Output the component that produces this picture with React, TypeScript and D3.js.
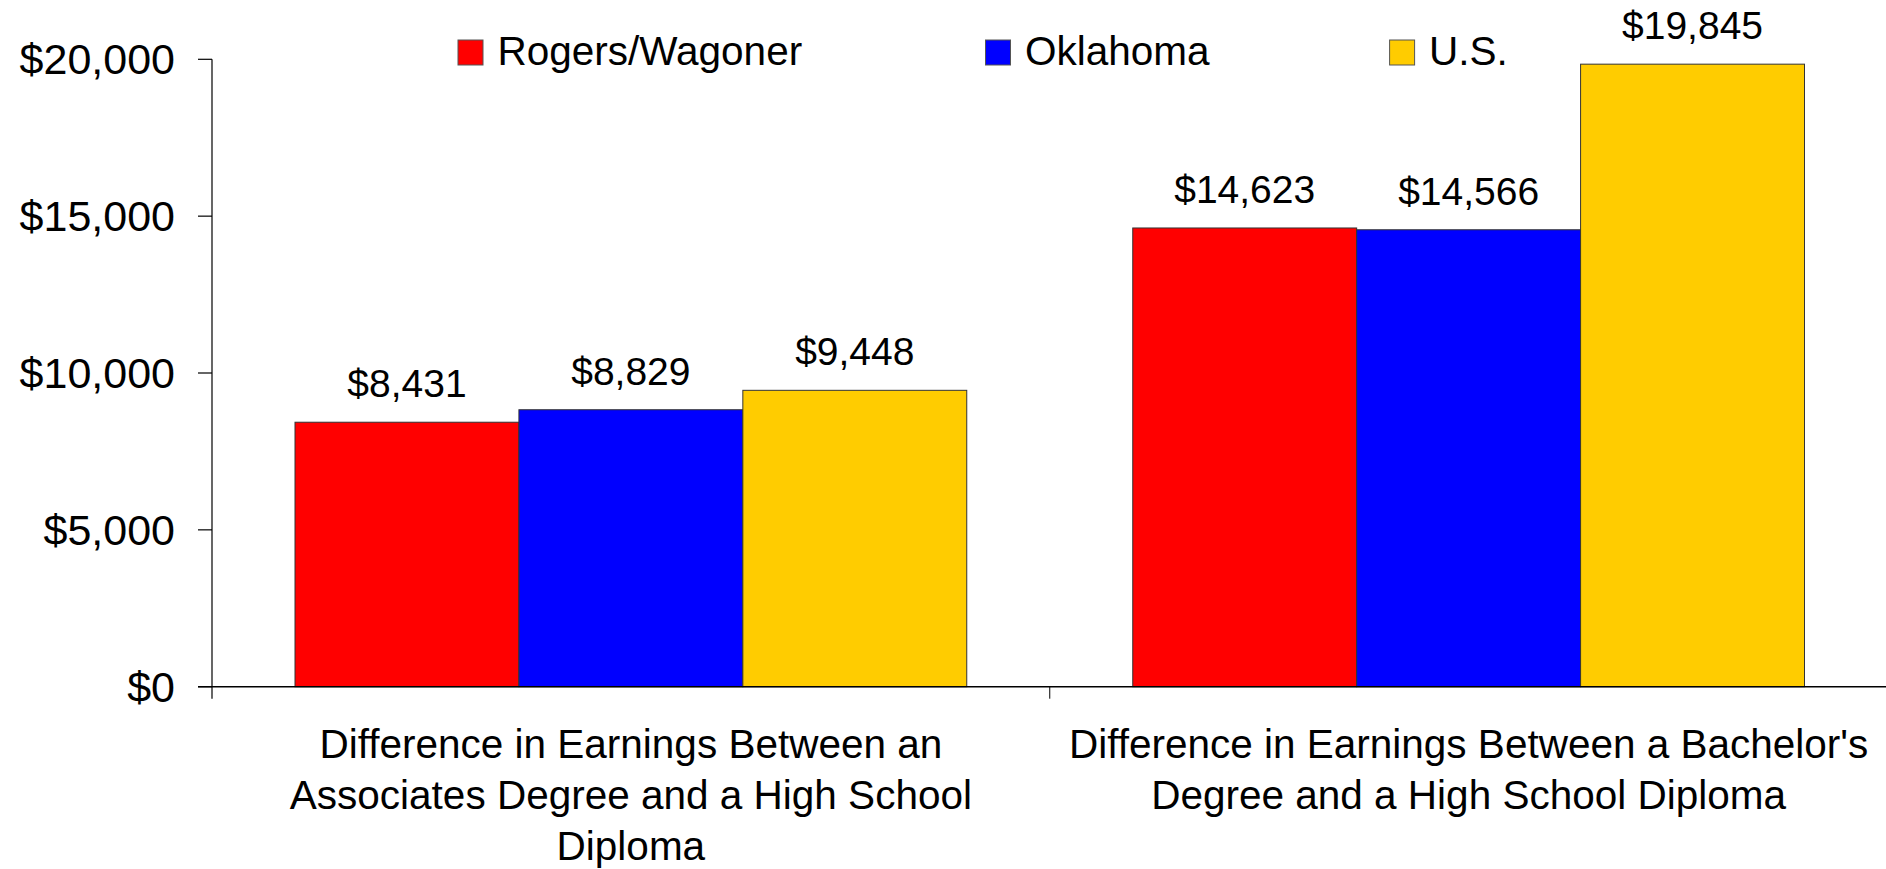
import React from "react";
import * as d3 from "d3";

const categories = [
  "Difference in Earnings Between an\nAssociates Degree and a High School\nDiploma",
  "Difference in Earnings Between a Bachelor's\nDegree and a High School Diploma",
];
const seriesNames = ["Rogers/Wagoner", "Oklahoma", "U.S."];
const seriesColors = ["#FF0000", "#0000FF", "#FFCC00"];
const rogersValues = [8431, 14623];
const oklahomaValues = [8829, 14566];
const usValues = [9448, 19845];
const yTicks = [0, 5000, 10000, 15000, 20000];

const W = 1886;
const H = 869;
const FONT = "'Liberation Sans', Arial, sans-serif";
const FS = 39;
const TICK_FS = 43;
const LEG_FS = 40.5;
const CAT_FS = 40.5;

export default function App() {
  const values = [rogersValues, oklahomaValues, usValues];
  const left = 212;
  const right = 1887.5;
  const y0 = 686.7;
  const yTop = 59.3;
  const y = d3.scaleLinear().domain([0, 20000]).range([y0, yTop]);
  const x0 = d3.scaleBand<string>().domain(categories).range([left, right]).padding(0);
  const bw = x0.bandwidth();
  const gap = 166;
  const x1 = d3
    .scaleBand<string>()
    .domain(seriesNames)
    .range([gap / 2, bw - gap / 2])
    .padding(0);
  const fmt = (v: number) => "$" + d3.format(",")(v);

  const legendX = [458, 985.5, 1389.6];

  return (
    <svg width={W} height={H} style={{ display: "block", position: "absolute", left: 0, top: 0 }} fontFamily={FONT}>
      <rect x={0} y={0} width={W} height={H} fill="#fff" />
      {/* bars */}
      {categories.map((c, ci) =>
        seriesNames.map((s, si) => {
          const v = values[si][ci];
          const bx = (x0(c) as number) + (x1(s) as number);
          return (
            <g key={c + s}>
              <rect
                x={bx}
                y={y(v)}
                width={x1.bandwidth()}
                height={y0 - y(v)}
                fill={seriesColors[si]}
                stroke="#333"
                strokeWidth={1}
              />
              <text
                x={bx + x1.bandwidth() / 2}
                y={y(v) - 25}
                textAnchor="middle"
                fontSize={FS}
                fill="#000"
              >
                {fmt(v)}
              </text>
            </g>
          );
        })
      )}
      {/* y axis */}
      <line x1={left} x2={left} y1={yTop} y2={y0 + 12} stroke="#000" strokeWidth={1.2} />
      {yTicks.map((t) => (
        <g key={t}>
          <line x1={198} x2={left} y1={y(t)} y2={y(t)} stroke="#000" strokeWidth={1.2} />
          <text x={175} y={y(t)} dy="0.35em" textAnchor="end" fontSize={TICK_FS} fill="#000">
            {fmt(t)}
          </text>
        </g>
      ))}
      {/* x axis */}
      <line x1={198} x2={W} y1={y0} y2={y0} stroke="#000" strokeWidth={1.5} />
      {categories.map((c, i) =>
        i > 0 ? (
          <line key={"t" + i} x1={x0(c)} x2={x0(c)} y1={y0} y2={y0 + 12} stroke="#000" strokeWidth={1} />
        ) : null
      )}
      {categories.map((c) => {
        const lines = c.split("\n");
        const cx = (x0(c) as number) + bw / 2;
        return (
          <text key={"l" + c} textAnchor="middle" fontSize={CAT_FS} fill="#000">
            {lines.map((ln, li) => (
              <tspan key={li} x={cx} y={758 + li * 51}>
                {ln}
              </tspan>
            ))}
          </text>
        );
      })}
      {/* legend */}
      {seriesNames.map((s, i) => (
        <g key={"lg" + s}>
          <rect x={legendX[i]} y={40} width={25} height={25} fill={seriesColors[i]} stroke="#555" strokeWidth={1} />
          <text x={legendX[i] + 39.5} y={65} fontSize={LEG_FS} fill="#000">
            {s}
          </text>
        </g>
      ))}
    </svg>
  );
}
